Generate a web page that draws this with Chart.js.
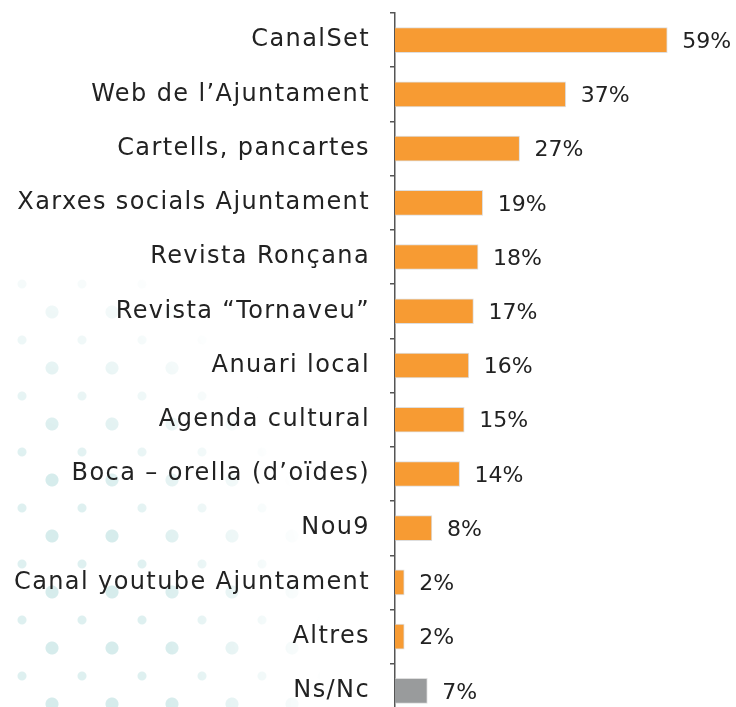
<!DOCTYPE html>
<html>
<head>
<meta charset="utf-8">
<script src="https://cdn.jsdelivr.net/npm/chart.js@4/dist/chart.umd.min.js"></script>
<style>
  html, body { margin: 0; padding: 0; background: #fff; overflow: hidden; }
  #wrap { position: relative; width: 736px; height: 720px; }
  #dots {
    position: absolute; left: 0; top: 270px; width: 320px; height: 450px;
    background-image:
      radial-gradient(circle, #d6ecec 6px, transparent 7px),
      radial-gradient(circle, #def0f0 4px, transparent 5px);
    background-size: 60px 56px, 60px 56px;
    background-position: 22px 14px, 52px 42px;
    -webkit-mask-image: radial-gradient(ellipse 330px 520px at 0% 100%, rgba(0,0,0,1) 50%, rgba(0,0,0,0) 100%);
    mask-image: radial-gradient(ellipse 330px 520px at 0% 100%, rgba(0,0,0,1) 50%, rgba(0,0,0,0) 100%);
  }
  canvas { position: absolute; left: 0; top: 0; }
</style>
</head>
<body>
<div id="wrap">
<div id="dots"></div>
<canvas id="chart" width="736" height="720"></canvas>
</div>
<script>
const categories = [
    'CanalSet',
    'Web de l\u2019Ajuntament',
    'Cartells, pancartes',
    'Xarxes socials Ajuntament',
    'Revista Ron\u00e7ana',
    'Revista \u201cTornaveu\u201d',
    'Anuari local',
    'Agenda cultural',
    'Boca \u2013 orella (d\u2019o\u00efdes)',
    'Nou9',
    'Canal youtube Ajuntament',
    'Altres',
    'Ns/Nc'
];
const values = [59, 37, 27, 19, 18, 17, 16, 15, 14, 8, 2, 2, 7];
const barColors = ['#F79B33', '#F79B33', '#F79B33', '#F79B33', '#F79B33', '#F79B33', '#F79B33',
    '#F79B33', '#F79B33', '#F79B33', '#F79B33', '#F79B33', '#999B9C'];

const fontFamily = "'DejaVu Sans', sans-serif";

// wider text, closer to the original's geometric font
const spacing = {
    id: 'spacing',
    beforeUpdate(chart) { chart.ctx.letterSpacing = '1.4px'; },
    beforeDraw(chart) { chart.ctx.letterSpacing = '1.4px'; }
};

// percent labels to the right of each bar
const valueLabels = {
    id: 'valueLabels',
    afterDatasetsDraw(chart) {
        const ctx = chart.ctx;
        const meta = chart.getDatasetMeta(0);
        ctx.save();
        ctx.letterSpacing = '0px';
        ctx.font = '22px ' + fontFamily;
        ctx.fillStyle = '#222';
        ctx.textBaseline = 'middle';
        ctx.textAlign = 'left';
        meta.data.forEach((bar, i) => {
            ctx.fillText(values[i] + '%', bar.x + 15, bar.y + 2);
        });
        ctx.restore();
    }
};

new Chart(document.getElementById('chart'), {
    type: 'bar',
    data: {
        labels: categories,
        datasets: [{
            data: values,
            backgroundColor: barColors,
            borderColor: 'rgba(200,200,200,0.6)',
            borderWidth: 1,
            borderSkipped: 'left',
            barThickness: 25
        }]
    },
    options: {
        indexAxis: 'y',
        responsive: false,
        animation: false,
        layout: { padding: { top: 13, right: 18, bottom: 2, left: 0 } },
        plugins: { legend: { display: false }, tooltip: { enabled: false } },
        scales: {
            x: { display: false, min: 0, max: 70 },
            y: {
                afterFit(scale) {
                    scale.width = 395;
                    scale.paddingTop = 0;
                    scale.paddingBottom = 0;
                },
                border: { display: true, color: '#555', width: 1.5 },
                grid: { display: true, drawOnChartArea: false, offset: true, tickLength: 5, color: '#555', lineWidth: 1.5 },
                ticks: { color: '#222', padding: 20, font: { size: 24, family: fontFamily } }
            }
        }
    },
    plugins: [spacing, valueLabels]
});
</script>
</body>
</html>
